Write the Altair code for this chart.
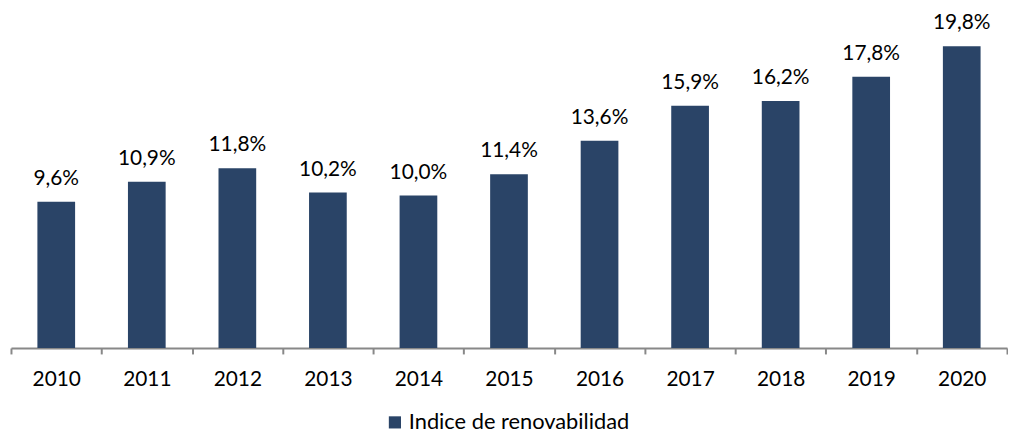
import altair as alt
import pandas as pd

years = ["2010", "2011", "2012", "2013", "2014", "2015", "2016", "2017", "2018", "2019", "2020"]
values = [9.6, 10.9, 11.8, 10.2, 10.0, 11.4, 13.6, 15.9, 16.2, 17.8, 19.8]
series = "Indice de renovabilidad"

df = pd.DataFrame({
    "year": years,
    "value": values,
    "label": [f"{v:.1f}".replace(".", ",") + "%" for v in values],
    "serie": [series] * len(years),
})

FONT = "Lato"
COLOR = "#2a4467"

x = alt.X("year:N", title=None, sort=years,
          scale=alt.Scale(paddingInner=0, paddingOuter=0),
          axis=alt.Axis(labelAngle=0, labelFontSize=21, labelColor="#000000", labelFont=FONT,
                        labelPadding=15, tickBand="extent", tickSize=6, tickColor="#888888",
                        tickWidth=2, domainColor="#888888", domainWidth=2, grid=False))
y = alt.Y("value:Q", title=None, scale=alt.Scale(domain=[0, 22], nice=False), axis=None)

bars = alt.Chart(df).mark_bar(size=38, color=COLOR).encode(
    x=x, y=y,
    color=alt.Color("serie:N", scale=alt.Scale(range=[COLOR]),
                    legend=alt.Legend(title=None, orient="none", legendX=376, legendY=402,
                                      symbolType="square", symbolSize=150, symbolOffset=0,
                                      labelFontSize=22, labelFont=FONT, labelLimit=400,
                                      labelOffset=3, labelColor="#000000", symbolStrokeWidth=0)),
)
text = alt.Chart(df).mark_text(dy=-13, baseline="bottom", fontSize=21, font=FONT, color="#000000").encode(
    x=x, y=y, text="label:N"
)

chart = (bars + text).properties(
    width=1004, height=338,
    padding={"left": 2, "top": 2, "right": 0, "bottom": 0},
).configure_view(stroke=None)

chart.save("out.html", embed_options={"renderer": "svg", "actions": False})
